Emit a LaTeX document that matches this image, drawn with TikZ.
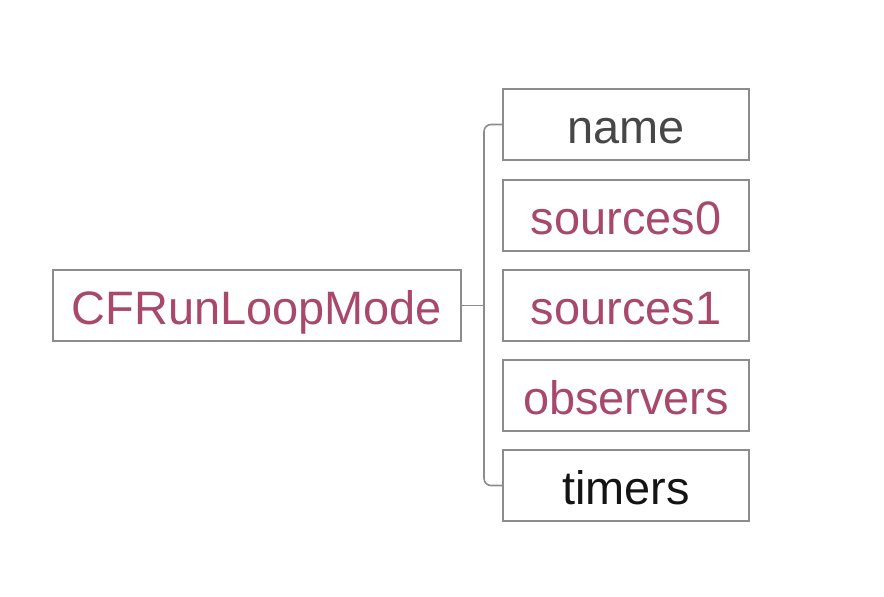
\documentclass[tikz,border=0pt]{standalone}
\usepackage{fontspec}
\setmainfont{Liberation Sans}
\definecolor{fieldred}{RGB}{168,72,106}
\definecolor{boxgray}{RGB}{140,140,140}
\tikzset{
  field/.style={draw=boxgray, line width=0.9pt, minimum width=4.92cm, minimum height=1.42cm,
    inner sep=0pt, text height=25pt, text depth=3pt, font=\fontsize{26.7}{32}\selectfont},
}
\begin{document}
\begin{tikzpicture}[x=0.02cm,y=-0.02cm]
                \useasboundingbox (0,0) rectangle (884,596);
                \node[field, minimum width=8.16cm, text=fieldred] (mode) at (257,305.5) {CFRunLoopMode};
                \node[field, text=black!72] (name) at (626,124.5) {name};
                \node[field, text=fieldred] (src0) at (626,215.5) {sources0};
                \node[field, text=fieldred] (src1) at (626,305.5) {sources1};
                \node[field, text=fieldred] (obs) at (626,395.5) {observers};
                \node[field, text=black!92] (timers) at (626,485.5) {timers};
                \draw[boxgray, line width=0.9pt, rounded corners=4pt] (name.west) -- (484,124.5) -- (484,485.5) -- (timers.west);
                \draw[boxgray, line width=0.9pt] (mode.east) -- (484,305.5);
            \end{tikzpicture}
\end{document}
